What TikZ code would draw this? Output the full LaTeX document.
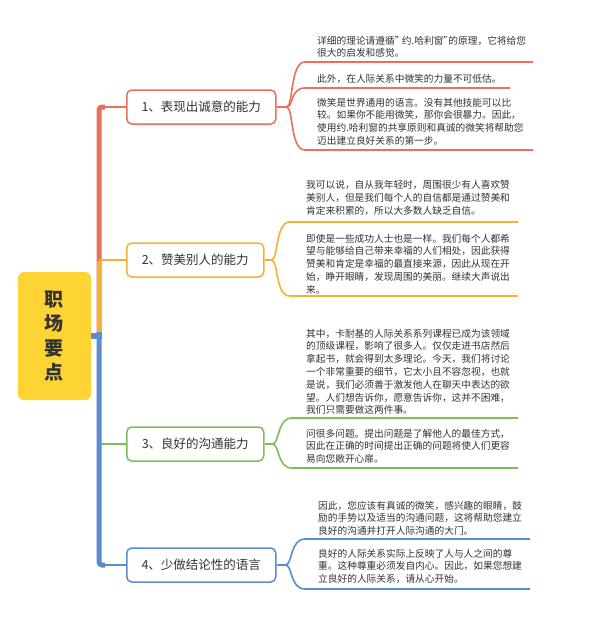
\documentclass[tikz,border=0pt]{standalone}
\usepackage{fontspec}
\setmainfont{Noto Sans CJK SC}
\definecolor{redc}{HTML}{EB6F5B}
\definecolor{orangec}{HTML}{F3B331}
\definecolor{greenc}{HTML}{7BBE5C}
\definecolor{bluec}{HTML}{5A8DD0}
\definecolor{yellowc}{HTML}{FDD434}
\definecolor{txt}{HTML}{333333}
\newcommand{\nq}{\makebox[5pt][l]{”}}
\tikzset{
  topic/.style={draw, line width=1.5pt, rounded corners=5pt, fill=white, minimum height=34pt, anchor=west, inner sep=0pt, font=\fontsize{12.5}{14}\selectfont, text=txt},
  leaf/.style={anchor=north west, inner sep=0pt, align=left, font=\fontsize{9.7}{12.8}\selectfont, text=txt},
  conn/.style={line width=1.6pt},
  trunk/.style={line width=5pt},
}
\begin{document}
\begin{tikzpicture}[x=1pt,y=-1pt]
\useasboundingbox (0,0) rectangle (590,622);
\fill[white] (0,0) rectangle (590,622);

% root
\node[fill=yellowc, rounded corners=6pt, minimum width=73pt, minimum height=128pt, inner sep=0pt, align=center, text=txt, font=\fontsize{19}{24.5}\selectfont\bfseries] (root) at (54.5,336) {职\\场\\要\\点};

% topics
\node[topic, draw=redc, minimum width=149pt] (n1) at (126,107) {1、表现出诚意的能力};
\node[topic, draw=orangec, minimum width=137pt] (n2) at (126,260) {2、赞美别人的能力};
\node[topic, draw=greenc, minimum width=137pt] (n3) at (126,444) {3、良好的沟通能力};
\node[topic, draw=bluec, minimum width=149pt] (n4) at (126,565) {4、少做结论性的语言};

% trunk coordinates
\coordinate (t1) at (99,107);
\coordinate (t2) at (99,260);
\coordinate (t3) at (99,444);
\coordinate (t4) at (99,565);
\coordinate (tb) at (99,333);

% red
\draw[trunk, redc, rounded corners=3pt] (tb) -- (t1) -- ++(6,0);
\draw[conn, redc] (t1) -- (n1.west);
% orange
\draw[trunk, orangec] (tb) -- ([yshift=-1pt]t2);
\draw[conn, orangec] (t2) -- (n2.west);
% green
\draw[conn, greenc] (t3) -- (n3.west);
% blue
\draw[line width=6pt, bluec] ([xshift=-0.5pt]root.east) -- (101.5,336);
\draw[trunk, bluec, rounded corners=3pt] (99,332) -- (t4) -- ++(6,0);
\draw[conn, bluec] (t4) -- (n4.west);

% junctions
\draw[conn, redc] (n1.east) -- ++(10,0) coordinate (j1);
\draw[conn, orangec] (n2.east) -- ++(7,0) coordinate (j2);
\draw[conn, greenc] (n3.east) -- ++(8,0) coordinate (j3);
\draw[conn, bluec] (n4.east) -- ++(9,0) coordinate (j4);

% leaves of 1
\node[leaf] (l1a) at (317,35.6) {详细的理论请遵循\nq{} 约.哈利窗\nq{}的原理，它将给您\\很大的启发和感觉。};
\node[leaf] (l1b) at (317,73.6) {此外，在人际关系中微笑的力量不可低估。};
\node[leaf] (l1c) at (317,97.6) {微笑是世界通用的语言。没有其他技能可以比\\较。如果你不能用微笑，那你会很暴力。因此，\\使用约.哈利窗的共享原则和真诚的微笑将帮助您\\迈出建立良好关系的第一步。};
\coordinate (u1a) at (305,62);
\coordinate (u1b) at (305,88);
\coordinate (u1c) at (305,150);
\draw[conn, redc] (j1) .. controls +(7,0) and +(-15,0) .. (u1a) -- (533,62);
\draw[conn, redc] (j1) .. controls +(7,0) and +(-15,0) .. (u1b) -- (510,88);
\draw[conn, redc] (j1) .. controls +(7,0) and +(-15,0) .. (u1c) -- (533,150);

% leaves of 2
\node[leaf] (l2a) at (306,180.6) {我可以说，自从我年轻时，周围很少有人喜欢赞\\美别人，但是我们每个人的自信都是通过赞美和\\肯定来积累的，所以大多数人缺乏自信。};
\node[leaf] (l2b) at (306,233.6) {即使是一些成功人士也是一样。我们每个人都希\\望与能够给自己带来幸福的人们相处，因此获得\\赞美和肯定是幸福的最直接来源，因此从现在开\\始，睁开眼睛，发现周围的美丽。继续大声说出\\来。};
\coordinate (u2a) at (290,222);
\coordinate (u2b) at (290,296);
\draw[conn, orangec] (j2) .. controls +(7,0) and +(-15,0) .. (u2a) -- (518,222);
\draw[conn, orangec] (j2) .. controls +(7,0) and +(-15,0) .. (u2b) -- (518,296);

% leaves of 3
\node[leaf] (l3a) at (306,328.6) {其中，卡耐基的人际关系系列课程已成为该领域\\的顶级课程，影响了很多人。仅仅走进书店然后\\拿起书，就会得到太多理论。今天，我们将讨论\\一个非常重要的细节，它太小且不容忽视，也就\\是说，我们必须善于激发他人在聊天中表达的欲\\望。人们想告诉你，愿意告诉你，这并不困难，\\我们只需要做这两件事。};
\node[leaf] (l3b) at (306,428.6) {问很多问题。提出问题是了解他人的最佳方式，\\因此在正确的时间提出正确的问题将使人们更容\\易向您敞开心扉。};
\coordinate (u3a) at (292,418);
\coordinate (u3b) at (292,468);
\draw[conn, greenc] (j3) .. controls +(7,0) and +(-15,0) .. (u3a) -- (518,418);
\draw[conn, greenc] (j3) .. controls +(7,0) and +(-15,0) .. (u3b) -- (518,468);

% leaves of 4
\node[leaf] (l4a) at (318,500.6) {因此，您应该有真诚的微笑，感兴趣的眼睛，鼓\\励的手势以及适当的沟通问题，这将帮助您建立\\良好的沟通并打开人际沟通的大门。};
\node[leaf] (l4b) at (318,548.6) {良好的人际关系实际上反映了人与人之间的尊\\重。这种尊重必须发自内心。因此，如果您想建\\立良好的人际关系，请从心开始。};
\coordinate (u4a) at (305,539);
\coordinate (u4b) at (305,589);
\draw[conn, bluec] (j4) .. controls +(7,0) and +(-15,0) .. (u4a) -- (530,539);
\draw[conn, bluec] (j4) .. controls +(7,0) and +(-15,0) .. (u4b) -- (530,589);
\end{tikzpicture}
\end{document}
